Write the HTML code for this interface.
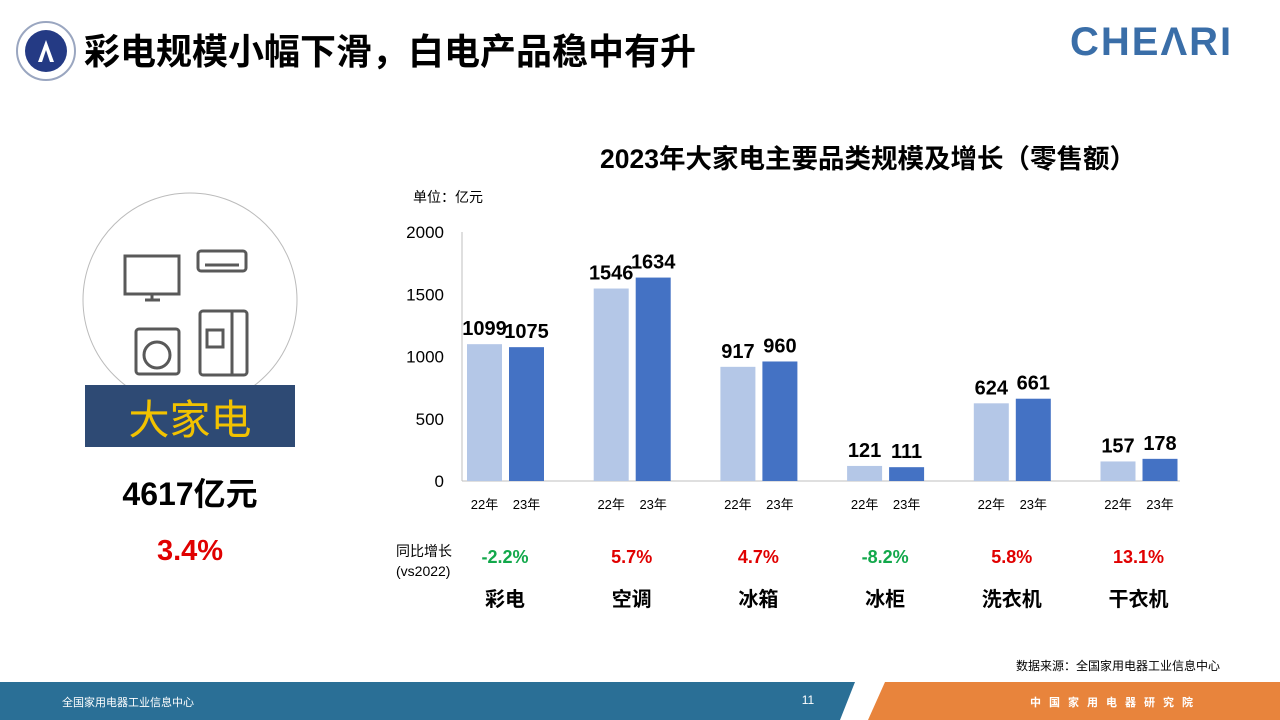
<!DOCTYPE html>
<html><head><meta charset="utf-8">
<style>
body{margin:0;width:1280px;height:720px;position:relative;overflow:hidden;background:#fff;font-family:"Liberation Sans","Noto Sans CJK SC",sans-serif;}
.abs{position:absolute;}
</style></head><body>
<svg class="abs" style="left:0;top:0" width="1280" height="720">
  <g>
    <circle cx="46" cy="51" r="29" fill="#fff" stroke="#9aa6c0" stroke-width="2"/>
    <circle cx="46" cy="51" r="21" fill="#243a84"/>
    <path d="M38 62 L46 40 L54 62 L50 62 L46 50 L42 62Z" fill="#fff"/>
  </g>
  <text x="84" y="64" font-size="36" font-weight="bold" fill="#000" font-family="Liberation Sans,Noto Sans CJK SC,sans-serif">彩电规模小幅下滑，白电产品稳中有升</text>
  <text x="1070" y="55" font-size="40" font-weight="bold" fill="#3a6ea8" letter-spacing="2">CHEΛRI</text>
  <g>
    <circle cx="190" cy="300" r="107" fill="#fff" stroke="#bbb" stroke-width="1"/>
    <g fill="none" stroke="#595959" stroke-width="3">
      <rect x="125" y="256" width="54" height="38"/><line x1="145" y1="300" x2="160" y2="300"/><line x1="152" y1="294" x2="152" y2="300"/>
      <rect x="198" y="251" width="48" height="20" rx="3"/><line x1="205" y1="265" x2="239" y2="265"/>
      <rect x="136" y="329" width="43" height="45" rx="3"/><circle cx="157" cy="355" r="13"/>
      <rect x="200" y="311" width="47" height="64" rx="3"/><line x1="232" y1="311" x2="232" y2="375"/><rect x="207" y="330" width="16" height="17"/>
    </g>
  </g>
  <rect x="85" y="385" width="210" height="62" fill="#2e4a74"/>
  <text x="190" y="434" font-size="41" fill="#f2c200" text-anchor="middle">大家电</text>
  <text x="190" y="505" font-size="32" font-weight="bold" fill="#000" text-anchor="middle">4617亿元</text>
  <text x="190" y="560" font-size="29" font-weight="bold" fill="#e00000" text-anchor="middle">3.4%</text>
  <text x="868" y="168" font-size="26.5" font-weight="bold" fill="#000" text-anchor="middle">2023年大家电主要品类规模及增长（零售额）</text>
  <text x="413" y="202" font-size="14" fill="#000">单位：亿元</text>
  <g id="chart"></g>
  <text x="396" y="556" font-size="14" fill="#000">同比增长</text>
  <text x="396" y="576" font-size="14" fill="#000">(vs2022)</text>
  <text x="1220" y="670" font-size="12" fill="#000" text-anchor="end">数据来源：全国家用电器工业信息中心</text>
  <polygon points="0,682 855,682 840,720 0,720" fill="#2a6f96"/>
  <polygon points="885,682 1280,682 1280,720 868,720" fill="#e8843c"/>
  <text x="62" y="706" font-size="11" fill="#fff">全国家用电器工业信息中心</text>
  <text x="808" y="704" font-size="12" fill="#fff" text-anchor="middle">11</text>
  <text x="1030" y="706" font-size="11" fill="#fff" letter-spacing="8" font-weight="bold">中国家用电器研究院</text>
</svg>
<script>
const categories=["彩电","空调","冰箱","冰柜","洗衣机","干衣机"];
const values22=[1099,1546,917,121,624,157];
const values23=[1075,1634,960,111,661,178];
const growth=["-2.2%","5.7%","4.7%","-8.2%","5.8%","13.1%"];
const yTicks=[0,500,1000,1500,2000];
const NS="http://www.w3.org/2000/svg";
const g=document.getElementById('chart');
const y=v=>481-v*(249/2000);
const gx=i=>505+i*126.7;
function mk(t,a,txt){const e=document.createElementNS(NS,t);for(const k in a)e.setAttribute(k,a[k]);if(txt!==undefined)e.textContent=txt;g.appendChild(e);return e;}
let e=mk('line',{x1:462,y1:232,x2:462,y2:481,stroke:'#bfbfbf'});

e=mk('line',{x1:462,y1:481,x2:1180,y2:481,stroke:'#bfbfbf'});

yTicks.forEach(v=>{const t=mk('text',{x:444,y:y(v)+6,'font-size':17,'text-anchor':'end',fill:'#000'},v);
});
categories.forEach((c,i)=>{
 const cx=gx(i);
 [[values22[i],cx-38,'#b4c7e7','bar-2022','22年'],[values23[i],cx+4,'#4472c4','bar-2023','23年']].forEach(([v,x,col,nm,lb])=>{
  const r=mk('rect',{x:x,y:y(v),width:35,height:481-y(v),fill:col});
  
  const t=mk('text',{x:x+17.5,y:y(v)-9,'font-size':20,'font-weight':'bold','text-anchor':'middle',fill:'#000'},v);
  
  const l=mk('text',{x:x+17.5,y:509,'font-size':13,'text-anchor':'middle',fill:'#000'},lb);
  
 });
 const gt=mk('text',{x:cx,y:563,'font-size':18,'font-weight':'bold','text-anchor':'middle',fill:growth[i].startsWith('-')?'#12a84b':'#e00000'},growth[i]);
 
 const ct=mk('text',{x:cx,y:606,'font-size':20,'font-weight':'bold','text-anchor':'middle',fill:'#000'},c);
 
});
</script>
</body></html>
